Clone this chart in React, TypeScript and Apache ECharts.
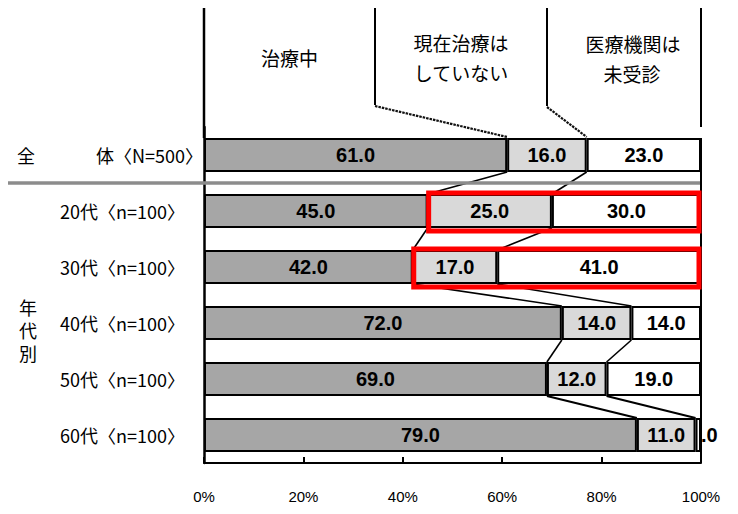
import React, { useEffect, useRef } from "react";
import * as echarts from "echarts";

// ---- data ----
const categories = ["全体〈N=500〉", "20代〈n=100〉", "30代〈n=100〉", "40代〈n=100〉", "50代〈n=100〉", "60代〈n=100〉"];
const seriesNames = ["治療中", "現在治療はしていない", "医療機関は未受診"];
// bar lengths as drawn (%)
const treating = [61, 45, 42, 72, 69, 87.1];
const notTreating = [16, 25, 17, 14, 12, 11.8];
const notVisited = [23, 30, 41, 14, 19, 1.1];
// printed labels
const treatingLabels = ["61.0", "45.0", "42.0", "72.0", "69.0", "79.0"];
const notTreatingLabels = ["16.0", "25.0", "17.0", "14.0", "12.0", "11.0"];
const notVisitedLabels = ["23.0", "30.0", "41.0", "14.0", "19.0", "10.0"];
const highlightedRows = [1, 2];
const headerLines1 = ["治療中", "現在治療は", "医療機関は"];
const headerLines2 = ["", "していない", "未受診"];
const groupLabel = ["年", "代", "別"];

const BAR_W = 34;
const CJK = '"Noto Sans CJK JP", "Noto Sans", sans-serif';
const NUM = '"Liberation Sans", Arial, sans-serif';
const LBL = 20;

export default function App() {
  const ref = useRef<HTMLDivElement>(null);
  useEffect(() => {
    if (!ref.current) return;
    const chart = echarts.init(ref.current, undefined, { renderer: "svg" });

    const mkLabel = (labels: string[], values: number[]) => ({
      show: true,
      position: "inside",
      fontFamily: NUM,
      fontSize: LBL,
      fontWeight: "bold",
      color: "#000",
      formatter: (p: any) => {
        const s = labels[p.dataIndex];
        if (values[p.dataIndex] < 4) {
          const cut = s.indexOf(".");
          return `{h|${s.slice(0, cut)}}{v|${s.slice(cut)}}`;
        }
        return s;
      },
      rich: {
        h: { color: "rgba(0,0,0,0)", fontFamily: NUM, fontSize: LBL, fontWeight: "bold" },
        v: { color: "#000", fontFamily: NUM, fontSize: LBL, fontWeight: "bold" },
      },
    });

    const barBase = {
      type: "bar",
      stack: "total",
      barWidth: BAR_W,
      z: 2,
    };

    const option: any = {
      animation: false,
      backgroundColor: "#fff",
      grid: { left: 204, top: 127, width: 497, height: 336 },
      xAxis: {
        type: "value",
        min: 0,
        max: 100,
        interval: 20,
        axisLine: { show: true, lineStyle: { color: "#000", width: 2 } },
        axisTick: { show: true, inside: true, length: 6, lineStyle: { color: "#000", width: 2 } },
        splitLine: { show: false },
        axisLabel: {
          formatter: "{value}%",
          margin: 26,
          fontFamily: NUM,
          fontSize: 15,
          color: "#000",
        },
      },
      yAxis: {
        type: "category",
        inverse: true,
        data: categories,
        axisLine: { show: true, lineStyle: { color: "#000", width: 2.5 } },
        axisTick: { show: false },
        axisLabel: {
          margin: 187,
          align: "left",
          color: "#000",
          formatter: (v: string, idx: number) =>
            idx === 0 ? `{g|${v.slice(0, 1)}}{t|${v.slice(1)}}` : `{a|${v}}`,
          rich: {
            g: { width: 79, fontFamily: CJK, fontSize: 18, color: "#000" },
            t: { fontFamily: CJK, fontSize: 18, color: "#000" },
            a: { padding: [0, 0, 0, 43], fontFamily: CJK, fontSize: 18, color: "#000" },
          },
        },
      },
      graphic: groupLabel.map((ch, i) => ({
        type: "text",
        x: 28,
        y: 307 + i * 23,
        style: {
          text: ch,
          align: "center",
          verticalAlign: "middle",
          fontFamily: CJK,
          fontSize: 18,
          fill: "#000",
        },
      })),
      series: [
        {
          ...barBase,
          name: seriesNames[0],
          data: treating,
          itemStyle: { color: "#a6a6a6", borderColor: "#000", borderWidth: 2 },
          label: mkLabel(treatingLabels, treating),
        },
        {
          ...barBase,
          name: seriesNames[1],
          data: notTreating,
          itemStyle: { color: "#d9d9d9", borderColor: "#000", borderWidth: 2 },
          label: mkLabel(notTreatingLabels, notTreating),
        },
        {
          ...barBase,
          name: seriesNames[2],
          data: notVisited,
          itemStyle: { color: "#ffffff", borderColor: "#000", borderWidth: 2 },
          label: mkLabel(notVisitedLabels, notVisited),
        },
        {
          type: "custom",
          name: "overlay",
          clip: false,
          z: 10,
          silent: true,
          data: [[0, 0]],
          encode: { x: 0, y: 1 },
          renderItem: (params: any, api: any) => {
            const band = api.size([0, 1])[1];
            const half = BAR_W / 2;
            const px = (v: number, i: number) => api.coord([v, i]);
            const children: any[] = [];
            const n = categories.length;
            const x0 = px(0, 0)[0];
            const x100 = px(100, 0)[0];
            const c0 = px(0, 0)[1];
            const bottom = px(0, n - 1)[1] + band / 2;

            // connectors between rows
            for (let i = 0; i < n - 1; i++) {
              const b0 = [treating[i], treating[i] + notTreating[i]];
              const b1 = [treating[i + 1], treating[i + 1] + notTreating[i + 1]];
              for (let k = 0; k < 2; k++) {
                const a = px(b0[k], i);
                const b = px(b1[k], i + 1);
                children.push({
                  type: "line",
                  shape: { x1: a[0], y1: a[1] + half, x2: b[0], y2: b[1] - half },
                  style: { stroke: "#000", lineWidth: i === n - 2 ? 2.2 : 1.6 },
                });
              }
            }
            // right border of plot
            children.push({
              type: "line",
              shape: { x1: x100, y1: c0 - half, x2: x100, y2: bottom },
              style: { stroke: "#000", lineWidth: 2 },
            });
            // separator under the total row
            const sepY = c0 + band / 2;
            children.push({
              type: "line",
              shape: { x1: 8, y1: sepY, x2: x100 - 1, y2: sepY },
              style: { stroke: "#8c8c8c", lineWidth: 3.5 },
            });
            // red highlight boxes
            highlightedRows.forEach((r) => {
              const l = px(treating[r], r);
              const c = l[1];
              children.push({
                type: "rect",
                shape: { x: l[0] + 1, y: c - 18, width: x100 - 2 - (l[0] + 1), height: 38 },
                style: { fill: "none", stroke: "#ff0000", lineWidth: 5 },
              });
            });
            // header box lines
            const hTop = 8;
            const xa = 375;
            const xb = 547;
            children.push({
              type: "line",
              shape: { x1: x0, y1: hTop, x2: x0, y2: c0 - half },
              style: { stroke: "#000", lineWidth: 2.5 },
            });
            children.push({
              type: "line",
              shape: { x1: xa, y1: hTop, x2: xa, y2: 105 },
              style: { stroke: "#000", lineWidth: 2 },
            });
            children.push({
              type: "line",
              shape: { x1: xb, y1: hTop, x2: xb, y2: 106 },
              style: { stroke: "#000", lineWidth: 2 },
            });
            children.push({
              type: "line",
              shape: { x1: x100, y1: hTop, x2: x100, y2: 127 },
              style: { stroke: "#000", lineWidth: 2 },
            });
            const d1 = px(treating[0], 0)[0];
            const d2 = px(treating[0] + notTreating[0], 0)[0];
            children.push({
              type: "line",
              shape: { x1: xa, y1: 106, x2: d1, y2: c0 - half - 1 },
              style: { stroke: "#111", lineWidth: 2.2, lineDash: [2.5, 1] },
            });
            children.push({
              type: "line",
              shape: { x1: xb, y1: 107, x2: d2, y2: c0 - half - 1 },
              style: { stroke: "#111", lineWidth: 2.2, lineDash: [2.5, 1] },
            });
            // header texts
            const txt = (t: string, x: number, y: number) => ({
              type: "text",
              x,
              y,
              style: {
                text: t,
                align: "center",
                verticalAlign: "middle",
                fontFamily: CJK,
                fontSize: 19,
                fill: "#000",
              },
            });
            children.push(txt(headerLines1[0], (x0 + xa) / 2, 57));
            children.push(txt(headerLines1[1], (xa + xb) / 2, 42));
            children.push(txt(headerLines2[1], (xa + xb) / 2, 72));
            children.push(txt(headerLines1[2], 633, 43));
            children.push(txt(headerLines2[2], 632, 73));
            return { type: "group", children };
          },
        },
      ],
    };
    chart.setOption(option);
    return () => chart.dispose();
  }, []);
  return (
    <div
      ref={ref}
      style={{ position: "fixed", left: 0, top: 0, width: 738, height: 514, background: "#fff" }}
    />
  );
}
